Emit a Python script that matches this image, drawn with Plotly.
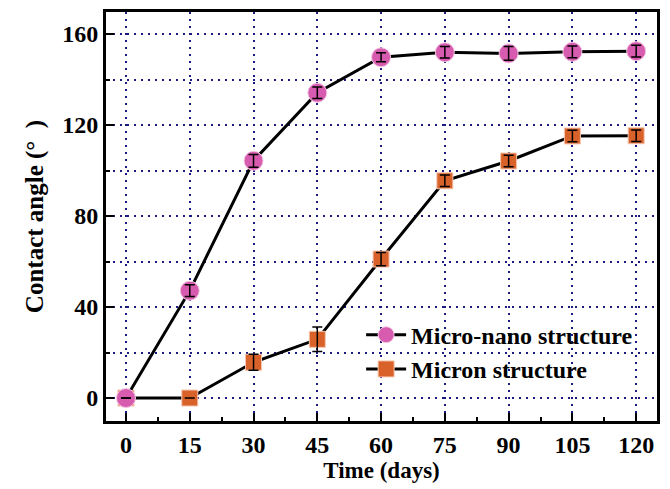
import plotly.graph_objects as go

days = [0, 15, 30, 45, 60, 75, 90, 105, 120]
micro_nano = [0, 47.2, 104.3, 134.2, 149.8, 152.0, 151.5, 152.2, 152.5]
micro_nano_err = [0, 2.6, 2.8, 2.5, 2.0, 2.5, 3.0, 2.6, 2.6]
micron = [0, 0, 15.7, 25.8, 61.1, 95.5, 104.2, 115.2, 115.3]
micron_err = [0, 0, 3.5, 5.4, 2.9, 2.5, 2.5, 2.5, 2.5]

font_family = "Liberation Serif, Times New Roman, serif"

fig = go.Figure()
fig.add_trace(go.Scatter(
    x=days, y=micron, name="Micron structure", mode="lines+markers",
    line=dict(color="black", width=3),
    marker=dict(symbol="square", size=16, color="#D9622B", line=dict(color="#F6C6AE", width=1)),
    legendrank=2,
))
fig.add_trace(go.Scatter(
    x=days, y=micro_nano, name="Micro-nano structure", mode="lines+markers",
    line=dict(color="black", width=3),
    marker=dict(symbol="circle", size=19, color="#D75BAE", line=dict(color="#F3C8E4", width=1)),
    legendrank=1,
))
# error bars drawn on top of markers
for ys, errs in [(micron, micron_err), (micro_nano, micro_nano_err)]:
    fig.add_trace(go.Scatter(
        x=days, y=ys, mode="markers", showlegend=False, hoverinfo="skip",
        marker=dict(size=1, opacity=0),
        error_y=dict(type="data", array=errs, color="black", thickness=1.5, width=5),
    ))

grid_color = "#1A1A80"
grid_dash = "2px,5px"
fig.update_layout(
    width=662, height=481,
    margin=dict(l=98, r=13, t=4, b=68, autoexpand=False),
    paper_bgcolor="white", plot_bgcolor="white",
    font=dict(family=font_family, size=20, color="black"),
    legend=dict(x=0.463, y=0.265, xanchor="left", yanchor="top",
                bgcolor="rgba(0,0,0,0)", font=dict(size=24, family=font_family, weight="bold"),
                tracegroupgap=0, itemwidth=40),
    showlegend=True,
)
fig.update_xaxes(
    range=[-4.7, 124.9], tickmode="array", tickvals=days,
    ticktext=[str(d) for d in days], automargin=False,
    showline=True, linecolor="black", linewidth=3, mirror=True,
    ticks="inside", ticklen=8, tickwidth=2, tickcolor="black",
    tickfont=dict(size=24, family=font_family, weight="bold"),
    showgrid=True, gridcolor=grid_color, griddash=grid_dash, gridwidth=1.5,
    zeroline=False,
    minor=dict(tick0=7.5, dtick=15, ticks="inside", ticklen=4, tickwidth=2, tickcolor="black", showgrid=False),
    title=dict(text="Time (days)", font=dict(size=23, family=font_family, weight="bold"), standoff=6),
)
fig.update_yaxes(
    range=[-10.1, 169.7], tickmode="linear", tick0=0, dtick=40, automargin=False,
    showline=True, linecolor="black", linewidth=3, mirror=True,
    ticks="inside", ticklen=8, tickwidth=2, tickcolor="black",
    tickfont=dict(size=24, family=font_family, weight="bold"),
    showgrid=True, gridcolor=grid_color, griddash=grid_dash, gridwidth=1.5,
    zeroline=False,
    minor=dict(tick0=20, dtick=40, ticks="inside", ticklen=4, tickwidth=2, tickcolor="black",
               showgrid=True, gridcolor=grid_color, griddash=grid_dash, gridwidth=1.5),
    title=dict(text="Contact angle (°\u00a0\u00a0)", font=dict(size=25, family=font_family, weight="bold"), standoff=12),
)

fig.write_html("out.html")
